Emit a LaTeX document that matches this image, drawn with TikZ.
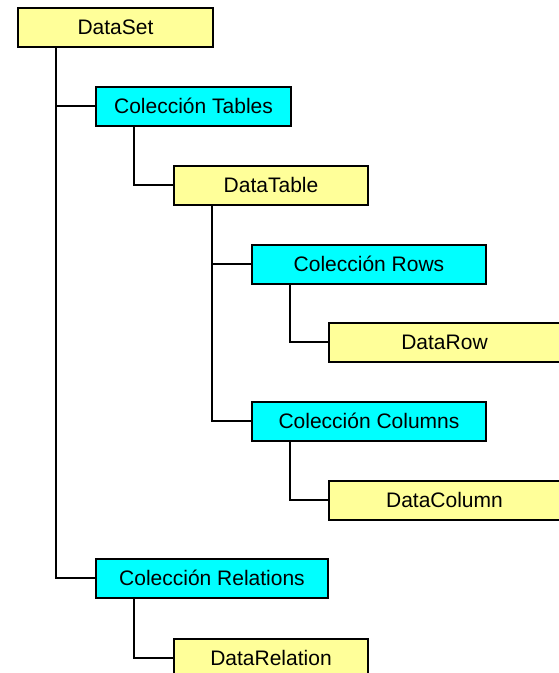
\documentclass[tikz,border=0pt]{standalone}
\usepackage{fontspec}
\setmainfont{Liberation Sans}
\usetikzlibrary{positioning}

\definecolor{boxyellow}{RGB}{255,255,153}
\definecolor{boxcyan}{RGB}{0,255,255}

\begin{document}
\begin{tikzpicture}[x=1pt, y=-1pt, line width=2pt]

        \def\boxh{39}          % height of every box
        \def\stem{39}          % distance from left edge of a box to its stem
        \tikzstyle{objbox}=[rectangle,draw=black,fill=boxyellow,minimum height=\boxh pt,inner sep=0pt]
        \tikzstyle{collbox}=[objbox,fill=boxcyan]
        \tikzset{fontscale/.style = {font={\fontsize{#1pt}{#1pt}\selectfont}}}

        \useasboundingbox (0,0) rectangle (559,673);
        \clip (0,0) rectangle (559,673);

        % Draw the boxes
        \node[objbox,fontscale=21,minimum width=195pt] (DSet) at (115.5,27.5) {DataSet};
        \node[collbox,fontscale=21,minimum width=195pt] (CTab) at (193.5,106) {Colección Tables};
        \node[objbox,fontscale=21,minimum width=194pt] (DTab) at (271,185) {DataTable};
        \node[collbox,fontscale=21,minimum width=234pt] (CRow) at (369,264) {Colección Rows};
        \node[objbox,fontscale=21,minimum width=231pt] (DRow) at (444.5,342) {DataRow};
        \node[collbox,fontscale=21,minimum width=234pt] (CCol) at (369,421) {Colección Columns};
        \node[objbox,fontscale=21,minimum width=231pt] (DCol) at (444.5,500) {DataColumn};
        \node[collbox,fontscale=21,minimum width=232pt] (CRel) at (212,578) {Colección Relations};
        \node[objbox,fontscale=21,minimum width=194pt] (DRel) at (271,658) {DataRelation};

        % Connect the boxes
        \foreach \parent / \child in {DSet/CTab, DSet/CRel, CTab/DTab, DTab/CRow, DTab/CCol, CRow/DRow, CCol/DCol, CRel/DRel}
                \draw ([xshift=\stem pt]\parent.south west) |- (\child.west);

\end{tikzpicture}
\end{document}
